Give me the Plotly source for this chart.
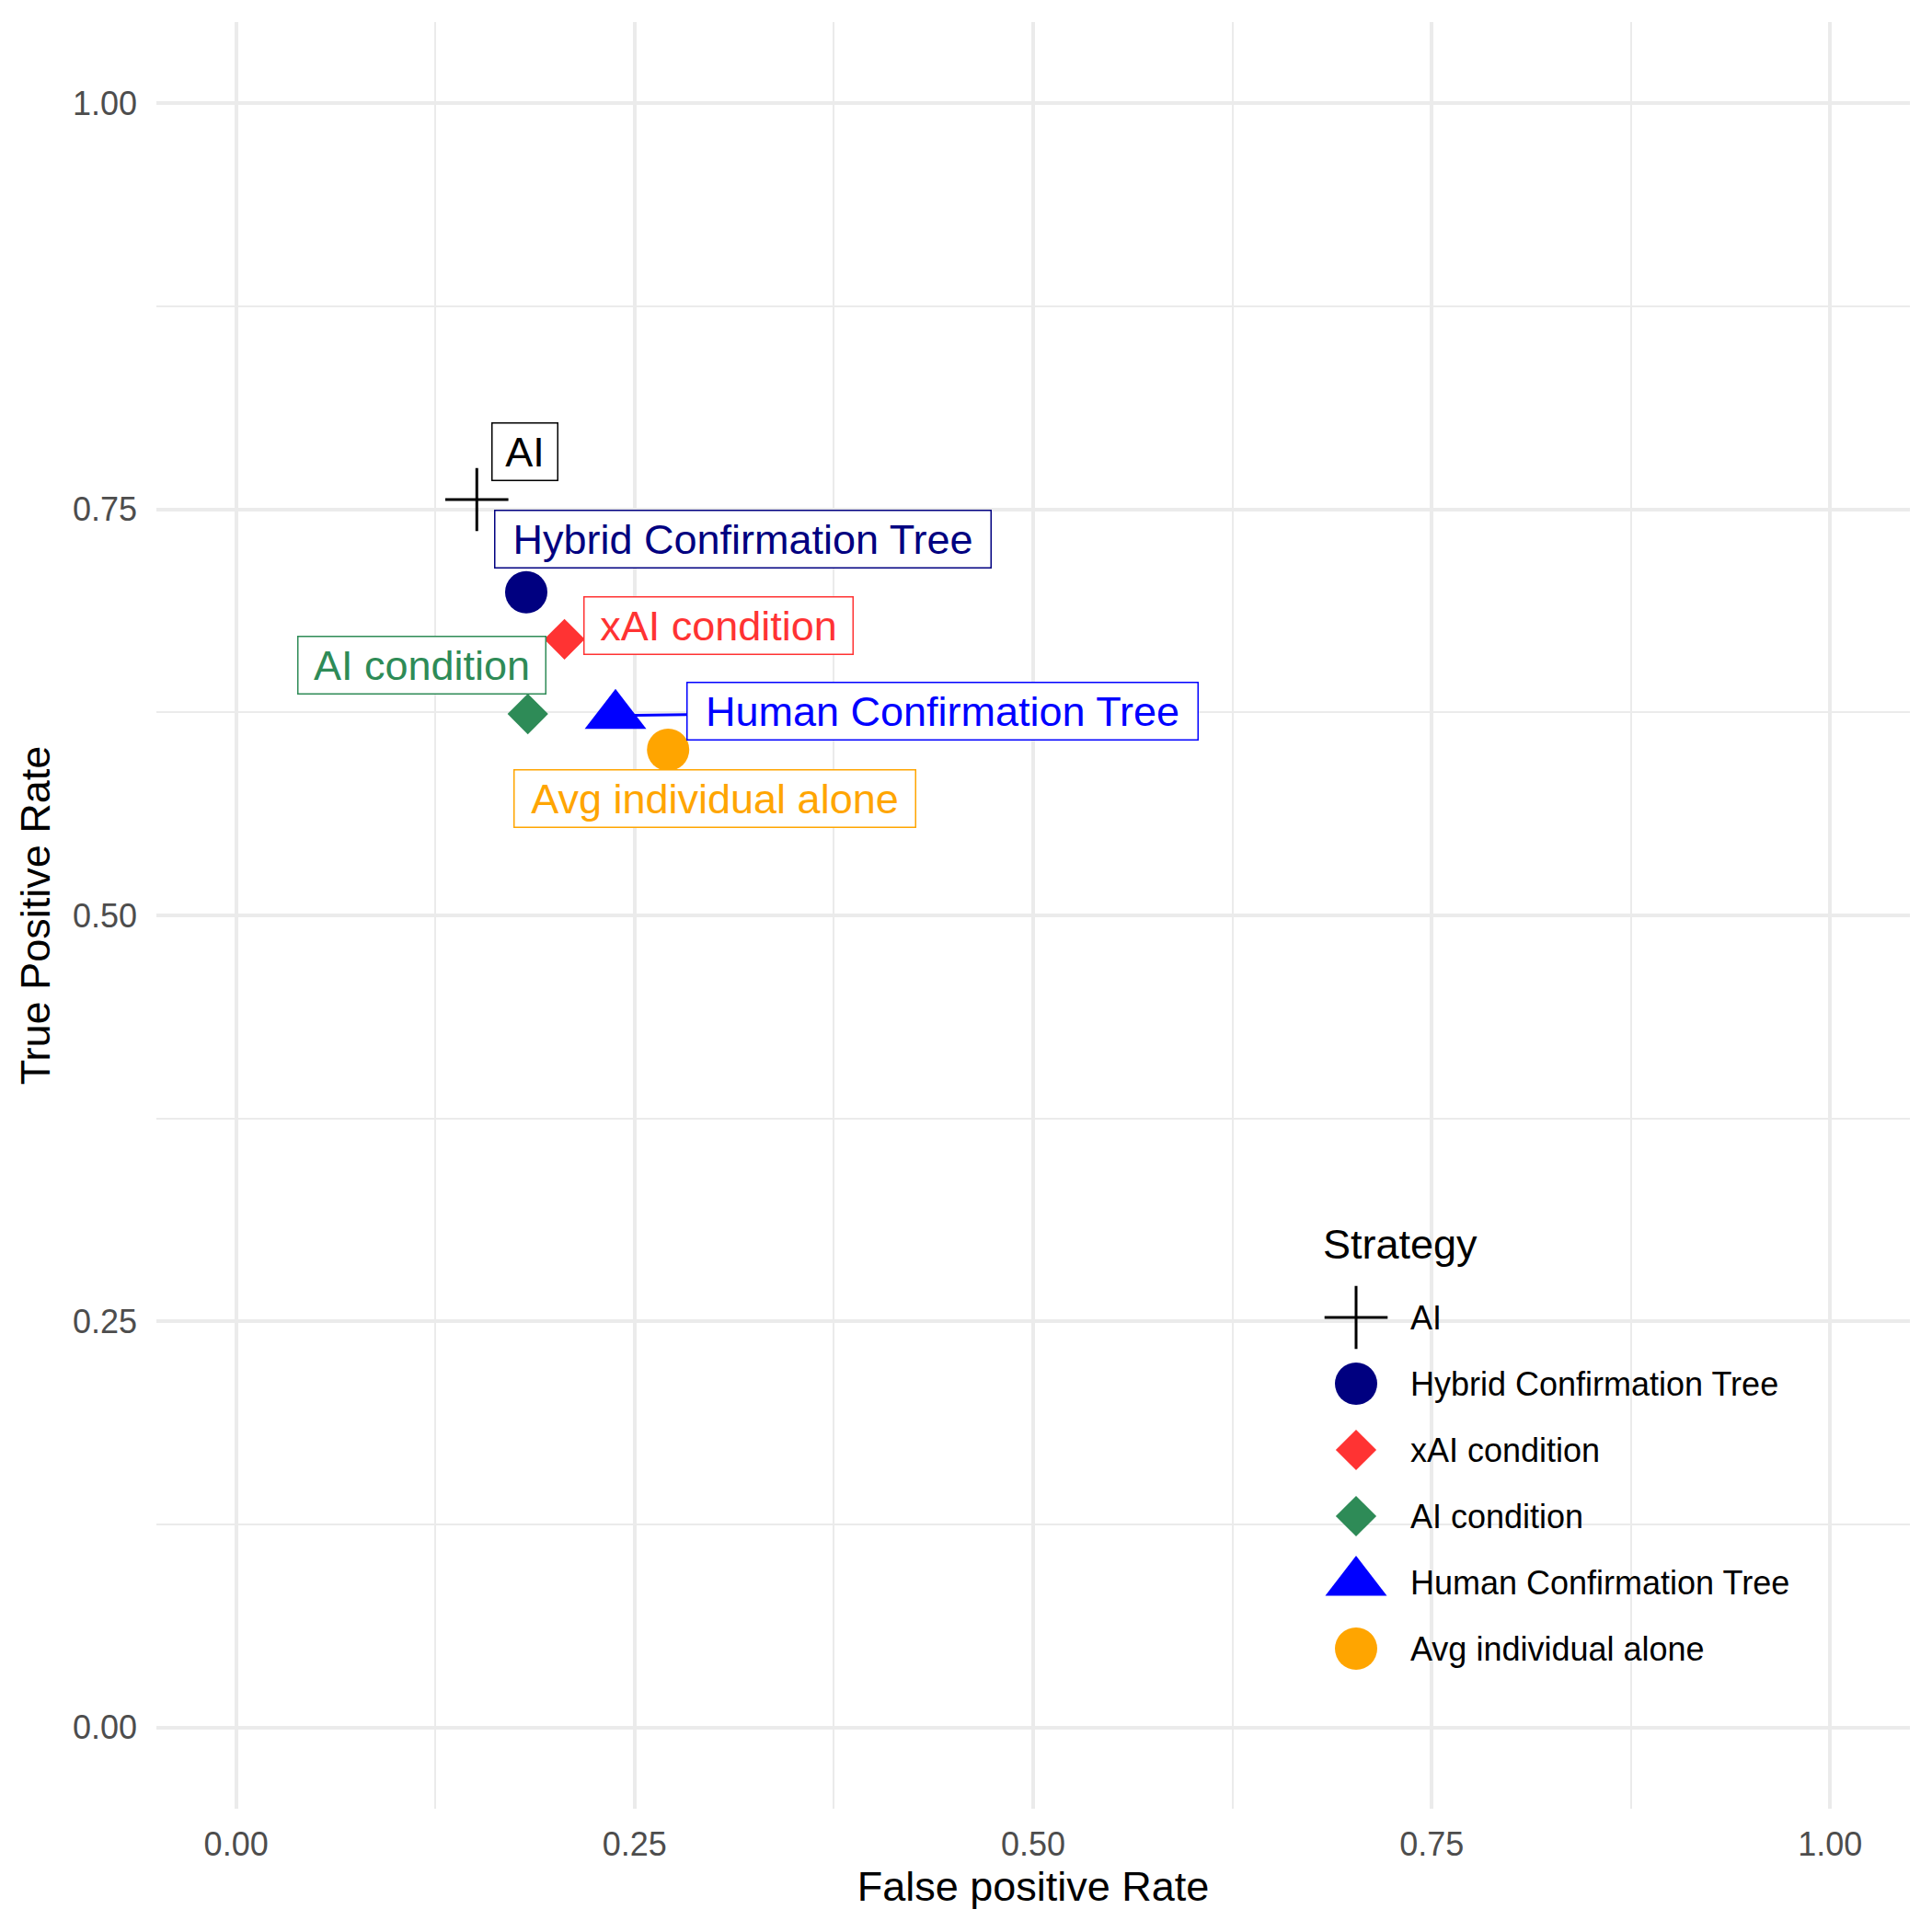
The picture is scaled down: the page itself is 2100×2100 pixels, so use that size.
import plotly.graph_objects as go

# ---------------- data ----------------
strategies = ["AI", "Hybrid Confirmation Tree", "xAI condition", "AI condition",
              "Human Confirmation Tree", "Avg individual alone"]
fpr = [0.151, 0.182, 0.206, 0.183, 0.238, 0.271]
tpr = [0.756, 0.699, 0.670, 0.624, 0.623, 0.602]

tick_vals = [0.0, 0.25, 0.5, 0.75, 1.0]
tick_text = ["0.00", "0.25", "0.50", "0.75", "1.00"]

# ---------------- styles ----------------
colors = ["#000000", "#000080", "#FF3333", "#2E8B57", "#0000FF", "#FFA500"]
symbols = ["cross-thin", "circle", "diamond", "diamond", "triangle-up", "circle"]
sizes = [49, 46, 34, 34, 58, 46]

# repelled label placement (pixel offset of the box centre from the point) and box size
label_dx = [52, 236, 167, -115, 355, 51]
label_dy = [-52, -58, -15, -53, -5, 53]
label_w = [73, 541, 294, 271, 557, 438]
label_h = 64
show_segment = [False, False, False, False, True, False]

FONT = "Liberation Sans, Arial, Helvetica, sans-serif"
W, H = 2100, 2100
L, R, T, B = 170, 24, 24, 134
GRID = "#EBEBEB"

fig = go.Figure()

def marker_dict(i):
    if symbols[i] == "cross-thin":
        return dict(symbol=symbols[i], size=sizes[i], color=colors[i],
                    line=dict(color=colors[i], width=3))
    return dict(symbol=symbols[i], size=sizes[i], color=colors[i], line=dict(width=0))

for i, s in enumerate(strategies):
    fig.add_trace(go.Scatter(x=[fpr[i]], y=[tpr[i]], mode="markers", name=s,
                             marker=marker_dict(i), showlegend=False, cliponaxis=False))

# labels
for i, s in enumerate(strategies):
    fig.add_annotation(
        x=fpr[i], y=tpr[i], xref="x", yref="y",
        ax=label_dx[i], ay=label_dy[i],
        text=s, font=dict(family=FONT, size=45, color=colors[i]),
        bgcolor="white", bordercolor=colors[i], borderwidth=1.5, borderpad=0,
        width=label_w[i] - 3, height=label_h - 3,
        showarrow=True, arrowhead=0, arrowwidth=3, standoff=21,
        arrowcolor=colors[i] if show_segment[i] else "rgba(0,0,0,0)",
    )

# ---------------- custom legend (overlay pixel axes) ----------------
leg_marker_x = 1474
leg_text_x = 1531
leg_y0 = 1432
leg_step = 72
for i, s in enumerate(strategies):
    fig.add_trace(go.Scatter(x=[leg_marker_x], y=[leg_y0 + leg_step * i], mode="markers",
                             marker=marker_dict(i), xaxis="x2", yaxis="y2",
                             showlegend=False, hoverinfo="skip", cliponaxis=False))
    fig.add_annotation(x=leg_text_x, y=leg_y0 + leg_step * i, xref="x2", yref="y2",
                       text=s, showarrow=False, xanchor="left", yanchor="middle",
                       font=dict(family=FONT, size=36, color="black"))
fig.add_annotation(x=1436, y=1352, xref="x2", yref="y2", text="Strategy",
                   showarrow=False, xanchor="left", yanchor="middle",
                   font=dict(family=FONT, size=45, color="black"))

minor_vals = [(a + b) / 2 for a, b in zip(tick_vals[:-1], tick_vals[1:])]

axis_common = dict(
    tickmode="array", tickvals=tick_vals, ticktext=tick_text,
    showgrid=True, gridcolor=GRID, gridwidth=4,
    minor=dict(tickmode="array", tickvals=minor_vals, showgrid=True, gridcolor=GRID, gridwidth=2),
    zeroline=False, showline=False, ticks="",
    tickfont=dict(family=FONT, size=36, color="#4D4D4D"),
    automargin=False, range=[-0.05, 1.05],
)

fig.update_layout(
    width=W, height=H, autosize=False,
    margin=dict(l=L, r=R, t=T, b=B, pad=0),
    paper_bgcolor="white", plot_bgcolor="white",
    font=dict(family=FONT),
    showlegend=False,
    xaxis=dict(**axis_common, ticklabelstandoff=14,
               title=dict(text="False positive Rate", font=dict(family=FONT, size=45, color="black"),
                          standoff=10)),
    yaxis=dict(**axis_common, ticklabelstandoff=20,
               title=dict(text="True Positive Rate", font=dict(family=FONT, size=45, color="black"),
                          standoff=10)),
    xaxis2=dict(overlaying="x", range=[L, W - R], visible=False, fixedrange=True),
    yaxis2=dict(overlaying="y", range=[H - B, T], visible=False, fixedrange=True),
)

fig.write_html("out.html")
